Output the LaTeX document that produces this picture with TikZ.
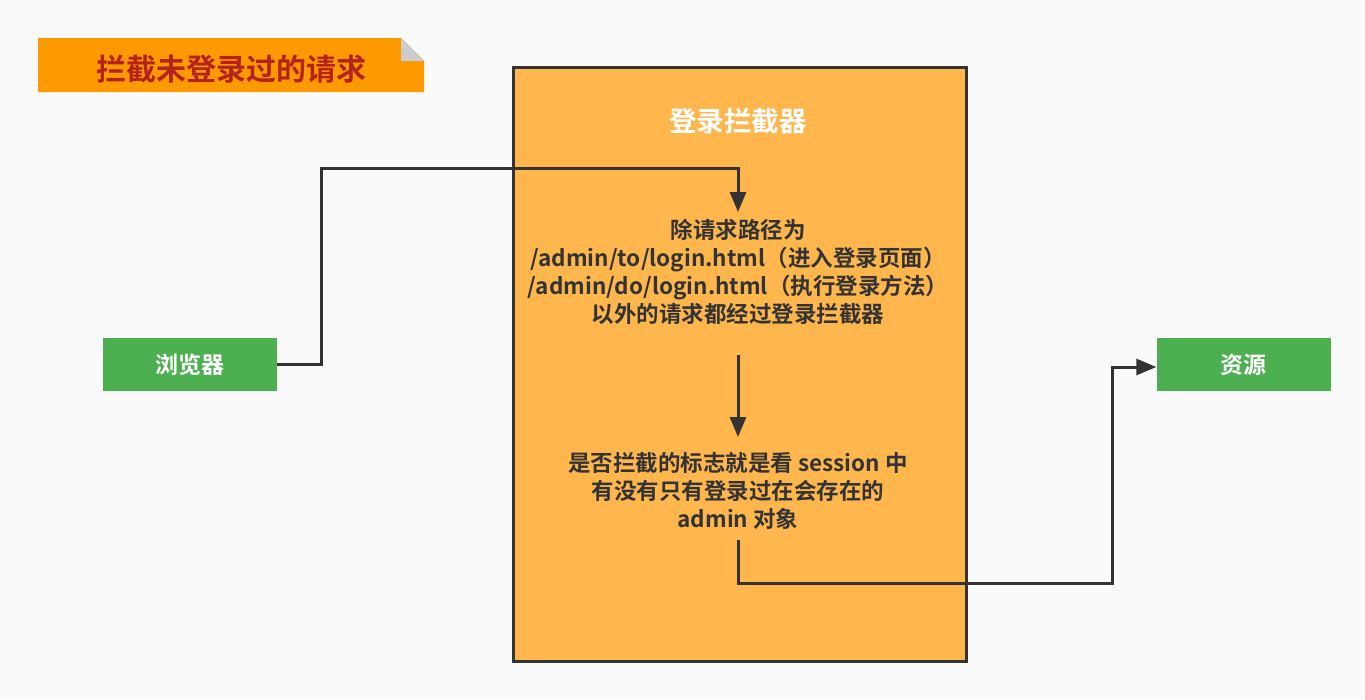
\documentclass[tikz,border=0pt]{standalone}
\usepackage{fontspec}
\newfontfamily\cjk{Noto Sans CJK SC}[BoldFont={Noto Sans CJK SC Bold}]
\usetikzlibrary{arrows.meta}
\definecolor{bg}{HTML}{FAFAFA}
\definecolor{tagorange}{HTML}{FF9900}
\definecolor{tagred}{HTML}{B5221C}
\definecolor{boxorange}{HTML}{FFB74D}
\definecolor{dark}{HTML}{333333}
\definecolor{green}{HTML}{4CAF50}
\definecolor{foldgray}{HTML}{CCCCCC}
\tikzset{
  greenbox/.style={fill=green, draw=none, minimum width=174pt, minimum height=53pt, inner sep=0pt, text=white, font=\cjk\bfseries\fontsize{23}{26}\selectfont},
  bodytext/.style={text=dark, align=center, font=\cjk\bfseries\fontsize{22.5}{28}\selectfont, inner sep=0pt},
  conn/.style={draw=dark, line width=3pt, -{Triangle[length=20pt,width=16pt]}},
}
\begin{document}
\begin{tikzpicture}[x=1pt,y=-1pt]
\useasboundingbox (0,0) rectangle (1365,699);
\fill[bg] (0,0) rectangle (1365,699);
% title tag
\fill[tagorange] (38,38) -- (401,38) -- (424,61) -- (424,92) -- (38,92) -- cycle;
\fill[foldgray] (401,38) -- (424,61) -- (401,61) -- cycle;
\node[text=tagred, font=\cjk\bfseries\fontsize{30}{32}\selectfont, inner sep=0pt] (title) at (231,69) {拦截未登录过的请求};
% main box
\node[fill=boxorange, draw=dark, line width=3pt, minimum width=453pt, minimum height=594pt, inner sep=0pt] (main) at (739.5,364) {};
\node[text=white, font=\cjk\bfseries\fontsize{27.5}{30}\selectfont, inner sep=0pt] (maintitle) at (738,121) {登录拦截器};
% side nodes
\node[greenbox] (browser) at (190,364.5) {浏览器};
\node[greenbox] (res) at (1243.5,364.5) {资源};
% texts
\node[bodytext] (t1) at (738,272) {除请求路径为\\/admin/to/login.html（进入登录页面）\\/admin/do/login.html（执行登录方法）\\以外的请求都经过登录拦截器};
\node[bodytext] (t2) at (738,491) {是否拦截的标志就是看 session 中\\有没有只有登录过在会存在的\\admin 对象};
% connector coordinates
\coordinate (a1) at (738,212);
\coordinate (b0) at (738,355);
\coordinate (b1) at (738,437);
\coordinate (c0) at (738,540);
% connectors
\draw[conn] (browser.east) -- (321,364.5) -- (321,168) -- (738,168) -- (a1);
\draw[conn] (b0) -- (b1);
\draw[conn] (c0) -- (738,583) -- (1112,583) -- (1112,367) -- (res.west |- 0,367);
\end{tikzpicture}
\end{document}
